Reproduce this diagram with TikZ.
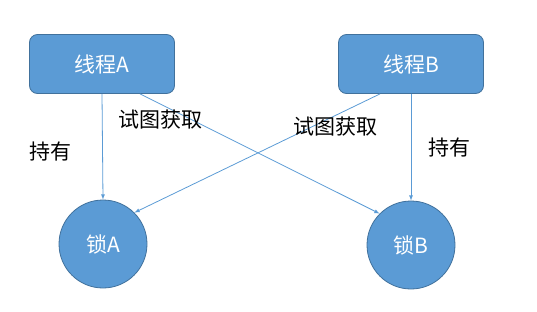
\documentclass[tikz,border=0pt]{standalone}
\usepackage{fontspec}
\newfontfamily\cjk{Noto Sans CJK SC}
\definecolor{boxblue}{HTML}{5B9BD5}
\definecolor{edgeblue}{HTML}{41719C}
\tikzset{
  thread/.style={draw=edgeblue, fill=boxblue, rounded corners=8pt, minimum width=145pt, minimum height=59pt, text=white, font=\cjk\fontsize{21}{24}\selectfont, line width=0.8pt},
  lock/.style={circle, draw=edgeblue, fill=boxblue, minimum size=88pt, inner sep=0pt, text=white, font=\cjk\fontsize{21}{24}\selectfont, line width=0.8pt},
  lbl/.style={font=\cjk\fontsize{21}{24}\selectfont, inner sep=0pt},
  conn/.style={draw=boxblue, line width=0.8pt, ->, >=latex}
}
\begin{document}
\begin{tikzpicture}[x=1pt,y=-1pt]
\useasboundingbox (0,0) rectangle (537,311);
\node[thread] (ta) at (102,64) {线程A};
\node[thread] (tb) at (411,64) {线程B};
\node[lock] (la) at (103,244) {锁A};
\node[lock] (lb) at (411,245) {锁B};
% holds
\draw[conn] (ta.south) -- (la.north);
\draw[conn] (tb.south) -- (lb.north);
% tries to get
\draw[conn] ([xshift=38pt]ta.south) -- (lb.135);
\draw[conn] ([xshift=-31pt]tb.south) -- (la.45);
\node[lbl] (ha) at (50,152) {持有};
\node[lbl] (ga) at (160,120) {试图获取};
\node[lbl] (gb) at (335,127) {试图获取};
\node[lbl] (hb) at (449,148) {持有};
\end{tikzpicture}
\end{document}
